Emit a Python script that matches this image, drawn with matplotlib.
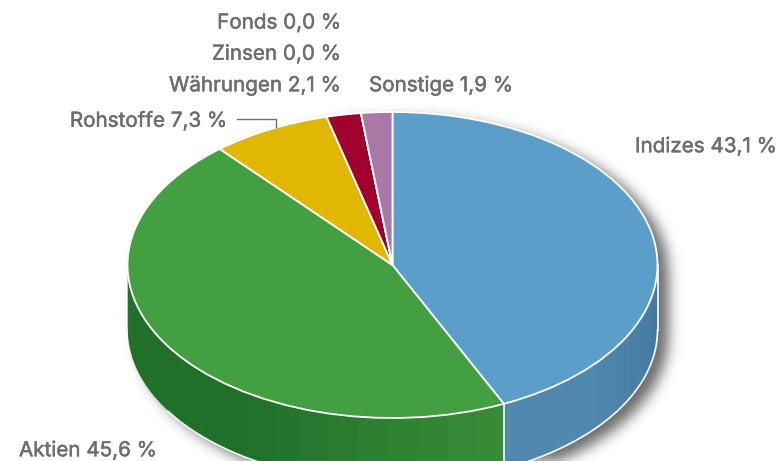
import numpy as np
import matplotlib
matplotlib.use("Agg")
import matplotlib.pyplot as plt
import matplotlib.patheffects as pe
from matplotlib.colors import to_rgb

# Data
labels = ["Indizes", "Aktien", "Rohstoffe", "Währungen", "Fonds", "Zinsen", "Sonstige"]
values = [43.1, 45.6, 7.3, 2.1, 0.0, 0.0, 1.9]
top_colors = ["#5b9ec9", "#43a040", "#e0b804", "#a1002f", "#888888", "#888888", "#aa78a6"]

W, H = 781, 461
CX, CY, RX, RY, DEPTH = 392.5, 265.0, 265.0, 153.0, 65.0
TEXT = "#6d6e71"
FONT = "Inter"

fig = plt.figure(figsize=(W / 100, H / 100), dpi=100, facecolor="white")
ax = fig.add_axes([0, 0, 1, 1])
xlim = (-CX / RX, (W - CX) / RX)
ylim = ((CY - H) / RY, CY / RY)
d = DEPTH / RY


def px(x, y):
    return (x - CX) / RX, (CY - y) / RY


# soft shadow, computed on the pixel grid
xx, yy = np.meshgrid(np.arange(W) + .5, np.arange(H) + .5)
sx, sy = 11.0, 7.0
ex = (xx - CX - sx) / RX
ey = (yy - CY - sy) / RY
mask = ((ex**2 + ey**2 <= 1) | (ex**2 + (ey - d)**2 <= 1) |
        ((np.abs(ex) <= 1) & (ey >= 0) & (ey <= d))).astype(float)
k = np.exp(-0.5 * (np.arange(-24, 25) / 6.5)**2)
k /= k.sum()
mask = np.apply_along_axis(lambda m: np.convolve(m, k, mode="same"), 0, mask)
mask = np.apply_along_axis(lambda m: np.convolve(m, k, mode="same"), 1, mask)
rgba = np.zeros((H, W, 4))
rgba[..., :3] = 0.1
rgba[..., 3] = mask * 0.64
ax.imshow(rgba, extent=(*xlim, ylim[0], ylim[1]), aspect="auto", zorder=1, interpolation="bilinear")

# cumulative clockwise angles from 12 o'clock
fracs = np.array(values) / sum(values)
edges = np.concatenate([[0], np.cumsum(fracs) * 360])


def lerp(a, b, t):
    return tuple(np.array(to_rgb(a)) * (1 - t) + np.array(to_rgb(b)) * t)


def side_color(i, ang):
    if i == 0:  # Indizes: lighter at the front, darker towards the right edge
        t = np.clip((ang - 100) / (133 - 100), 0, 1)
        return lerp("#437a9f", "#5088b0", t)
    t = np.clip((ang - 155) / (214 - 155), 0, 1)
    return lerp("#398d37", "#20702a", t)


step = 6.5
for i in (0, 1):
    a0, a1 = edges[i], edges[i + 1]
    a_start = max(a0, 90)
    a_end = min(a1, 270)
    if i == 0:
        cuts = np.arange(a_end, a_start - step, -step)[::-1]
        cuts[0] = a_start
    else:
        cuts = np.arange(a_start, a_end + step, step)
        cuts[-1] = a_end
    for b0, b1 in zip(cuts[:-1], cuts[1:]):
        th = np.radians(np.linspace(b0, b1, 12))
        x = np.sin(th)
        y = np.cos(th)
        ax.fill_between(x, y, y - d, color=side_color(i, (b0 + b1) / 2), lw=0.4, zorder=2)

# outer outline of the wall and the divider
th = np.radians(np.linspace(90, 238, 300))
ax.plot(np.sin(th), np.cos(th) - d, color="white", lw=1.2, zorder=3)
th = np.radians(np.linspace(238, 270, 80))
ax.plot(np.sin(th), np.cos(th) - d, color="white", lw=0.5, zorder=3)
ax.plot([1, 1], [0, -d], color="white", lw=1.2, zorder=3)
ang = np.radians(edges[1])
ax.plot([np.sin(ang)] * 2, [np.cos(ang), np.cos(ang) - d], color="white", lw=1.2, zorder=3)

# top face
wedges, _ = ax.pie(values, colors=top_colors, startangle=90, counterclock=False, radius=1,
                   wedgeprops=dict(edgecolor="white", linewidth=1.3, zorder=4))
ax.set_aspect("auto")
ax.set_xlim(*xlim)
ax.set_ylim(*ylim)
ax.axis("off")

# leader
lx, ly = zip(px(237, 118.5), px(276, 118.5), px(276, 127))
ax.plot(lx, ly, color=TEXT, lw=1.0, zorder=5, solid_joinstyle="miter")


def fmt(v):
    return f"{v:.1f}".replace(".", ",") + " %"


placement = {
    "Indizes": (635, 146, "left"),
    "Aktien": (19, 450, "left"),
    "Rohstoffe": (227, 120.5, "right"),
    "Währungen": (341, 85, "right"),
    "Fonds": (341, 22.5, "right"),
    "Zinsen": (341, 53.5, "right"),
    "Sonstige": (369, 85, "left"),
}
for name, v in zip(labels, values):
    x, y, ha = placement[name]
    tx, ty = px(x, y)
    ax.text(tx, ty, f"{name} {fmt(v)}", ha=ha, va="center", color=TEXT, fontsize=14.85,
            family=FONT, zorder=6,
            path_effects=[pe.withStroke(linewidth=0.35, foreground=TEXT)])

fig.savefig("out.png", dpi=100, facecolor="white")
